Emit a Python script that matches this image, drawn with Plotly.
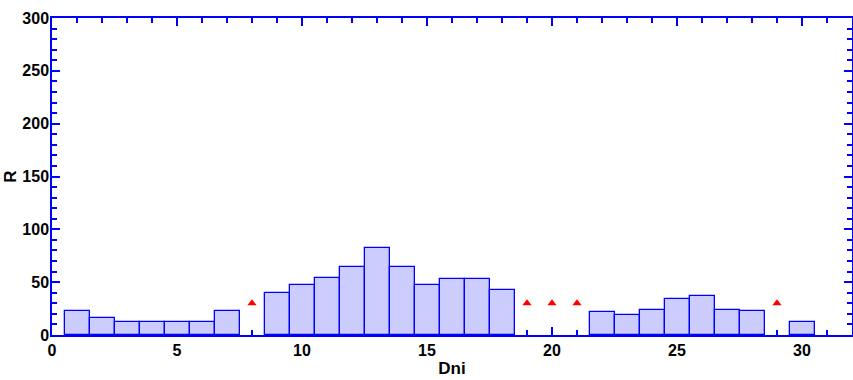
import plotly.graph_objects as go

dni = [1, 2, 3, 4, 5, 6, 7, 9, 10, 11, 12, 13, 14, 15, 16, 17, 18,
       22, 23, 24, 25, 26, 27, 28, 30]
r_vals = [23, 16, 12, 12, 12, 12, 23, 40, 47, 54, 64, 82, 64, 47, 53, 53, 43,
          22, 19, 24, 34, 37, 24, 23, 12]
flag_dni = [8, 19, 20, 21, 29]
flag_r = [30, 30, 30, 30, 30]

x_ticks = [0, 5, 10, 15, 20, 25, 30]
y_ticks = [0, 50, 100, 150, 200, 250, 300]

BLUE = "#0000ff"
FAM = "Liberation Sans, Arial, sans-serif"

fig = go.Figure()
fig.add_trace(go.Bar(
    x=dni, y=r_vals, width=1,
    marker=dict(color="#ccccff", line=dict(color=BLUE, width=1.3)),
    showlegend=False, hoverinfo="x+y",
))
fig.add_trace(go.Scatter(
    x=flag_dni, y=flag_r, mode="markers",
    marker=dict(symbol="triangle-up", size=8, color="red", line=dict(width=0)),
    showlegend=False,
))

axis_common = dict(
    showline=True, linecolor=BLUE, linewidth=1.5, mirror="ticks",
    ticks="inside", tickcolor=BLUE, tickwidth=1.5, ticklen=8,
    showgrid=False, zeroline=False, automargin=False,
    tickfont=dict(family=FAM, size=16, color="black", weight="bold"),
    layer="below traces",
)

fig.update_layout(
    width=853, height=380,
    margin=dict(l=52, r=1, t=18, b=45, autoexpand=False),
    plot_bgcolor="white", paper_bgcolor="white",
    bargap=0,
    xaxis=dict(
        range=[0, 32], tickvals=x_ticks, ticktext=[str(v) for v in x_ticks],
        minor=dict(dtick=1, tick0=0, ticks="inside", ticklen=5, tickcolor=BLUE, tickwidth=1.5, showgrid=False),
        title=dict(text="<b>Dni</b>", font=dict(family=FAM, size=17, color="black"), standoff=4),
        **axis_common,
    ),
    yaxis=dict(
        range=[0, 300], tickvals=y_ticks, ticktext=[str(v) for v in y_ticks],
        ticklabelstandoff=-2,
        minor=dict(dtick=10, tick0=0, ticks="inside", ticklen=5, tickcolor=BLUE, tickwidth=1.5, showgrid=False),
        title=dict(text="<b>R</b>", font=dict(family=FAM, size=17, color="black"), standoff=1),
        **axis_common,
    ),
)

fig.write_html("out.html", config={"displayModeBar": False},
               post_script="document.body.style.margin='0';")
